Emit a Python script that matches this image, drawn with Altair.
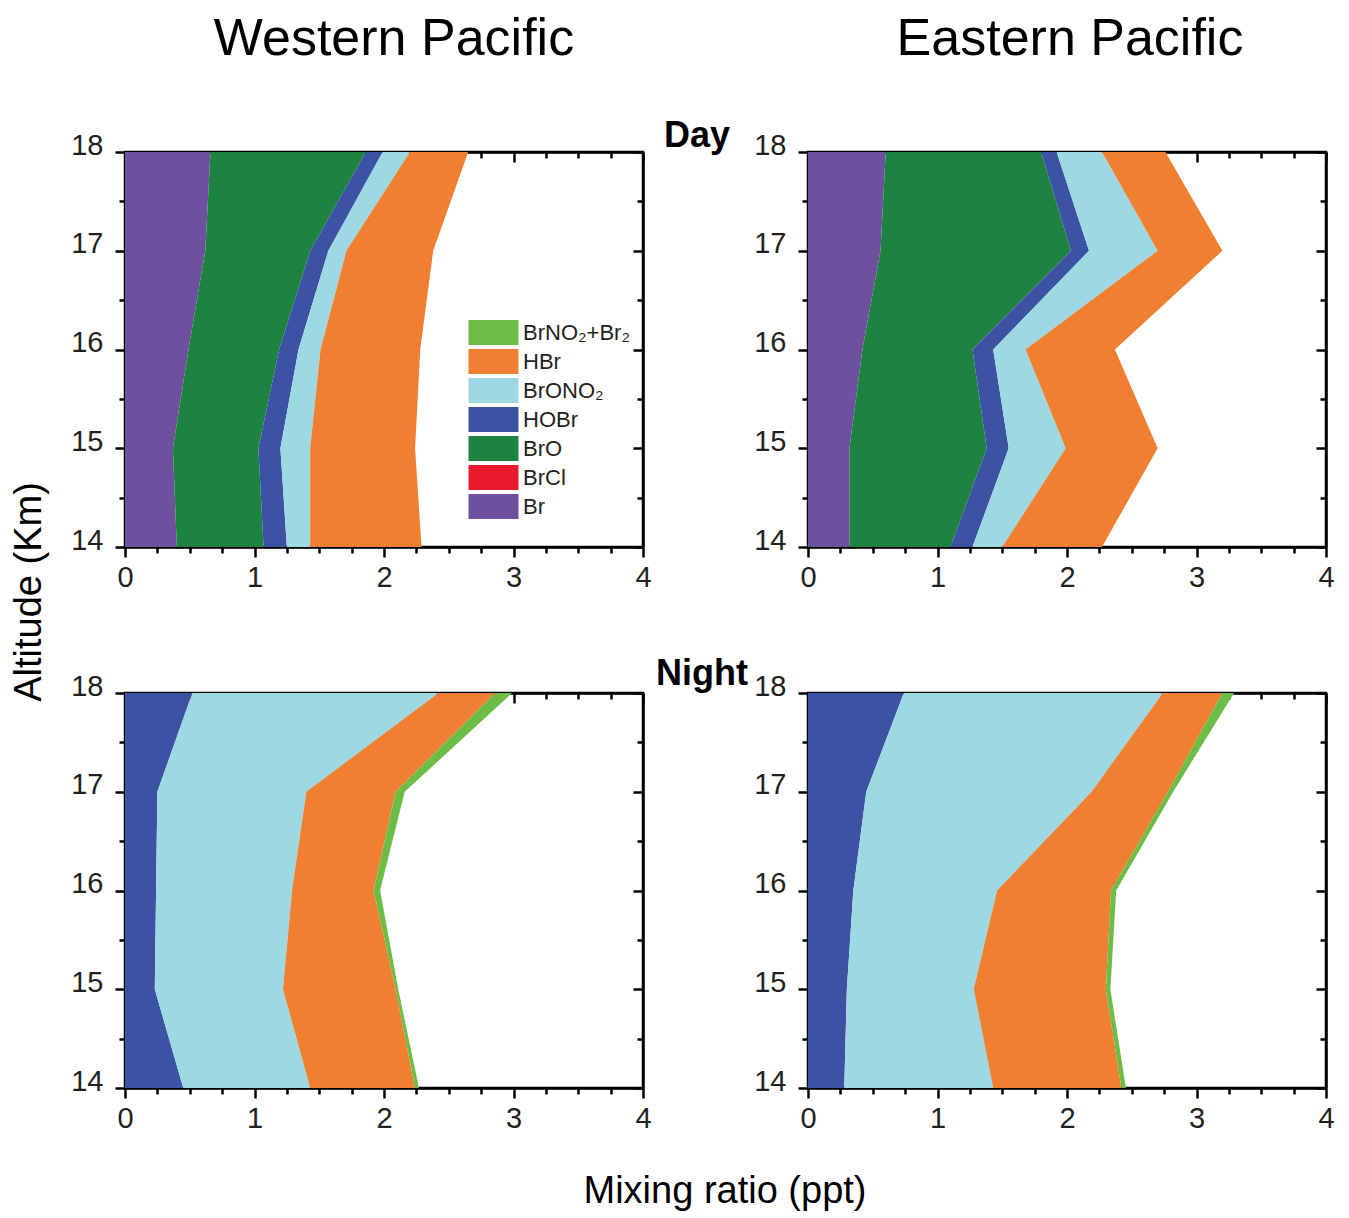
import altair as alt
import pandas as pd

# ---------------- data ----------------
altitude = [14, 15, 16, 17, 18]
species = ["Br", "BrCl", "BrO", "HOBr", "BrONO₂", "HBr", "BrNO₂+Br₂"]
legend_order = ["BrNO₂+Br₂", "HBr", "BrONO₂", "HOBr", "BrO", "BrCl", "Br"]
legend_colors = ["#6cbd45", "#ef7f31", "#9ed9e3", "#3c53a4", "#1e8241", "#e8192c", "#6d519f"]

# Western Pacific, day
wp_day_br = [0.40, 0.37, 0.49, 0.62, 0.66]
wp_day_brcl = [0.0, 0.0, 0.0, 0.0, 0.0]
wp_day_bro = [0.67, 0.66, 0.70, 0.81, 1.20]
wp_day_hobr = [0.18, 0.17, 0.15, 0.14, 0.13]
wp_day_brono2 = [0.18, 0.23, 0.17, 0.14, 0.21]
wp_day_hbr = [0.86, 0.81, 0.77, 0.67, 0.45]
wp_day_brno2 = [0.0, 0.0, 0.0, 0.0, 0.0]

# Eastern Pacific, day
ep_day_br = [0.32, 0.32, 0.42, 0.56, 0.60]
ep_day_brcl = [0.0, 0.0, 0.0, 0.0, 0.0]
ep_day_bro = [0.78, 1.06, 0.85, 1.47, 1.20]
ep_day_hobr = [0.17, 0.17, 0.16, 0.14, 0.12]
ep_day_brono2 = [0.23, 0.44, 0.25, 0.53, 0.35]
ep_day_hbr = [0.77, 0.71, 0.69, 0.50, 0.49]
ep_day_brno2 = [0.0, 0.0, 0.0, 0.0, 0.0]

# Western Pacific, night
wp_night_br = [0.0, 0.0, 0.0, 0.0, 0.0]
wp_night_brcl = [0.0, 0.0, 0.0, 0.0, 0.0]
wp_night_bro = [0.0, 0.0, 0.0, 0.0, 0.0]
wp_night_hobr = [0.45, 0.23, 0.24, 0.25, 0.52]
wp_night_brono2 = [0.98, 0.99, 1.05, 1.15, 1.90]
wp_night_hbr = [0.81, 0.87, 0.63, 0.69, 0.44]
wp_night_brno2 = [0.03, 0.02, 0.05, 0.07, 0.13]

# Eastern Pacific, night
ep_night_br = [0.0, 0.0, 0.0, 0.0, 0.0]
ep_night_brcl = [0.0, 0.0, 0.0, 0.0, 0.0]
ep_night_bro = [0.0, 0.0, 0.0, 0.0, 0.0]
ep_night_hobr = [0.28, 0.30, 0.35, 0.45, 0.74]
ep_night_brono2 = [1.15, 0.98, 1.11, 1.74, 2.00]
ep_night_hbr = [0.99, 1.02, 0.88, 0.59, 0.46]
ep_night_brno2 = [0.035, 0.035, 0.04, 0.04, 0.09]

x_ticks = [i / 4 for i in range(17)]
y_ticks = [14 + i / 2 for i in range(9)]

FONT = "Liberation Sans"
W, H = 518, 395


def to_long(series):
    rows = []
    for k, (sp, vals) in enumerate(zip(species, series)):
        for a, v in zip(altitude, vals):
            rows.append({"alt": a, "species": sp, "value": v, "order": k})
    return pd.DataFrame(rows)


wp_day = to_long([wp_day_br, wp_day_brcl, wp_day_bro, wp_day_hobr, wp_day_brono2, wp_day_hbr, wp_day_brno2])
ep_day = to_long([ep_day_br, ep_day_brcl, ep_day_bro, ep_day_hobr, ep_day_brono2, ep_day_hbr, ep_day_brno2])
wp_night = to_long([wp_night_br, wp_night_brcl, wp_night_bro, wp_night_hobr, wp_night_brono2, wp_night_hbr, wp_night_brno2])
ep_night = to_long([ep_night_br, ep_night_brcl, ep_night_bro, ep_night_hobr, ep_night_brono2, ep_night_hbr, ep_night_brno2])

tick_size = {"condition": {"test": "datum.value % 1 === 0", "value": 10}, "value": 6}
int_label = "datum.value % 1 === 0 ? format(datum.value, 'd') : ''"

x_axis = alt.Axis(values=x_ticks, labelExpr=int_label, tickSize=tick_size, title=None,
                  grid=False, labelPadding=6, labelFlush=False, labelOverlap=False)
y_axis = alt.Axis(values=y_ticks, labelExpr=int_label, tickSize=tick_size, title=None,
                  grid=False, labelPadding=12, labelOffset=-7, labelFlush=False, labelOverlap=False)
x_mirror = alt.Axis(values=x_ticks, labels=False, tickSize=tick_size, title=None,
                    grid=False, orient="bottom", offset=-H)
y_mirror = alt.Axis(values=y_ticks, labels=False, tickSize=tick_size, title=None,
                    grid=False, orient="left", offset=-W)

x_scale = alt.Scale(domain=[0, 4], nice=False)
y_scale = alt.Scale(domain=[14, 18], nice=False, zero=False)


def label(text, x, y, size, weight="normal", angle=0, baseline="alphabetic"):
    kw = dict(text=text, fontSize=size, fontWeight=weight, font=FONT, color="black",
              align="center", baseline=baseline)
    if angle:
        kw["angle"] = angle
    return alt.Chart(alt.Data(values=[{}])).mark_text(**kw).encode(x=alt.value(x), y=alt.value(y))


def panel(df, show_legend, texts):
    if show_legend:
        legend = alt.Legend(title=None, orient="none", legendX=356, legendY=168,
                            symbolType="M-2,-1H2V1H-2Z", symbolSize=625, symbolStrokeWidth=0,
                            symbolOpacity=1, labelFontSize=22, labelFont=FONT, labelColor="#231f20",
                            labelOffset=17, rowPadding=4, padding=0)
    else:
        legend = None
    area = alt.Chart(df).mark_area(orient="horizontal").encode(
        x=alt.X("value:Q", stack="zero", scale=x_scale, axis=x_axis),
        y=alt.Y("alt:Q", scale=y_scale, axis=y_axis),
        color=alt.Color("species:N", scale=alt.Scale(domain=legend_order, range=legend_colors), legend=legend),
        order=alt.Order("order:Q", sort="ascending"),
    )
    mirror = alt.Chart(df).mark_point(opacity=0).encode(
        x=alt.X("value:Q", scale=x_scale, axis=x_mirror),
        y=alt.Y("alt:Q", scale=y_scale, axis=y_mirror),
    )
    return alt.layer(area, mirror, *texts).resolve_axis(x="independent", y="independent").properties(
        width=W, height=H)


p1 = panel(wp_day, True, [
    label("Western Pacific", 269, -97, 52),
    label("Day", 572, -5, 36, "bold"),
    label("Altitude (Km)", -95, 440, 38, angle=270, baseline="middle"),
])
p2 = panel(ep_day, False, [label("Eastern Pacific", 262, -97, 52)])
p3 = panel(wp_night, False, [
    label("Night", 577, -8, 36, "bold"),
    label("Mixing ratio (ppt)", 600, 510, 38),
])
p4 = panel(ep_night, False, [])

chart = alt.concat(p1, p2, p3, p4, columns=2, spacing={"row": 146, "column": 165}).properties(
    bounds="flush", padding={"left": 1, "top": 3, "right": 5, "bottom": 5}
).resolve_scale(color="independent").resolve_legend(color="independent").configure(
    font=FONT
).configure_view(
    stroke="black", strokeWidth=2.5
).configure_axis(
    domainColor="black", domainWidth=2.5, tickColor="black", tickWidth=2.5,
    labelColor="#231f20", labelFont=FONT, labelFontSize=29
)

chart.save("out.html", embed_options={"renderer": "svg", "actions": False})
